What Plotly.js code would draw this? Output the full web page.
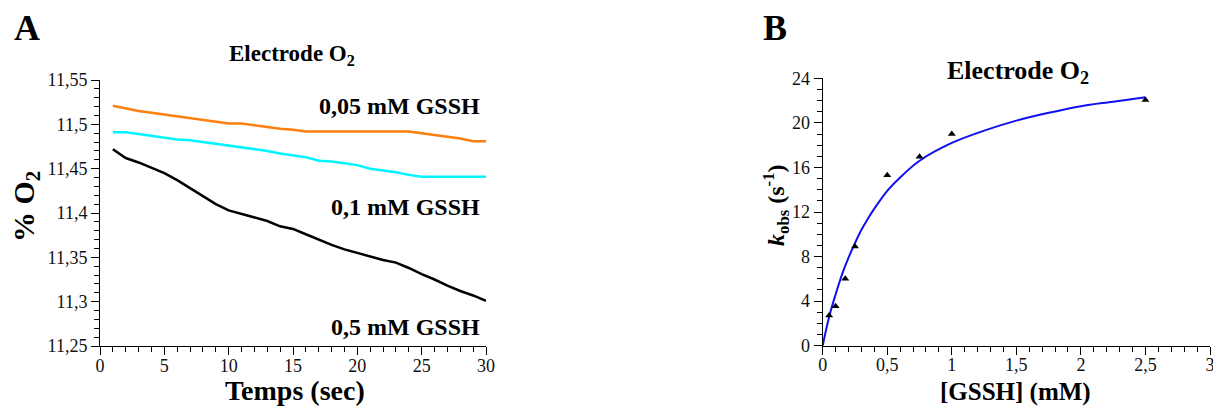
<!DOCTYPE html>
<html>
<head>
<meta charset="utf-8">
<script src="https://cdn.plot.ly/plotly-3.0.1.min.js"></script>
<style>html,body{margin:0;padding:0;background:#fff;}#chart{width:1213px;height:407px;}</style>
</head>
<body>
<div id="chart"></div>
<script>
// ---------- Panel A data (time in s, % O2) ----------
var timeSec = [1,2,3,4,5,6,7,8,9,10,11,12,13,14,15,16,17,18,19,20,21,22,23,24,25,26,27,28,29,30];
var o2_005mM = [11.521,11.518,11.515,11.513,11.511,11.509,11.507,11.505,11.503,11.501,11.501,11.499,11.497,11.495,11.494,11.492,11.492,11.492,11.492,11.492,11.492,11.492,11.492,11.492,11.490,11.488,11.486,11.484,11.481,11.481];
var o2_01mM  = [11.491,11.491,11.489,11.487,11.485,11.483,11.482,11.480,11.478,11.476,11.474,11.472,11.470,11.467,11.465,11.463,11.459,11.458,11.456,11.454,11.450,11.448,11.446,11.443,11.441,11.441,11.441,11.441,11.441,11.441];
var o2_05mM  = [11.472,11.462,11.457,11.451,11.445,11.437,11.428,11.419,11.410,11.403,11.399,11.395,11.391,11.385,11.382,11.376,11.370,11.364,11.359,11.355,11.351,11.347,11.344,11.338,11.331,11.325,11.318,11.312,11.307,11.301];
var seriesLabelsA = ["0,05 mM GSSH", "0,1 mM GSSH", "0,5 mM GSSH"];
var yTickValsA = [11.25,11.3,11.35,11.4,11.45,11.5,11.55];
var yTickTextA = ["11,25","11,3","11,35","11,4","11,45","11,5","11,55"];
var xTickValsA = [0,5,10,15,20,25,30];

// ---------- Panel B data ([GSSH] mM, kobs s-1) ----------
var gsshPts = [0.05, 0.1, 0.175, 0.25, 0.5, 0.75, 1.0, 2.5];
var kobsPts = [2.7, 3.55, 6.0, 8.9, 15.3, 16.95, 19.0, 22.05];
var fitX = [0, 0.05, 0.1, 0.15, 0.2, 0.25, 0.3, 0.35, 0.4, 0.5, 0.6, 0.75, 1.0, 1.25, 1.5, 1.75, 2.0, 2.25, 2.5];
var fitY = [0, 2.6, 4.6, 6.4, 7.9, 9.2, 10.4, 11.4, 12.3, 13.9, 15.1, 16.6, 18.2, 19.3, 20.2, 20.9, 21.5, 21.9, 22.3];
var xTickValsB = [0,0.5,1,1.5,2,2.5,3];
var xTickTextB = ["0","0,5","1","1,5","2","2,5","3"];
var yTickValsB = [0,4,8,12,16,20,24];

var W = 1213, H = 407;
function X(p){ return p / W; }
function Y(p){ return 1 - p / H; }
var FONT = "'Liberation Serif', 'Times New Roman', serif";

var traces = [
  {x: timeSec, y: o2_005mM, xaxis:'x', yaxis:'y', mode:'lines', line:{color:'#FF7F0E', width:2.5}, name: seriesLabelsA[0]},
  {x: timeSec, y: o2_01mM,  xaxis:'x', yaxis:'y', mode:'lines', line:{color:'#00F5FF', width:2.5}, name: seriesLabelsA[1]},
  {x: timeSec, y: o2_05mM,  xaxis:'x', yaxis:'y', mode:'lines', line:{color:'#000000', width:2.5}, name: seriesLabelsA[2]},
  {x: fitX, y: fitY, xaxis:'x2', yaxis:'y2', mode:'lines', line:{color:'#1010F0', width:2, shape:'spline'}, name:'fit'},
  {x: gsshPts, y: kobsPts, xaxis:'x2', yaxis:'y2', mode:'markers', marker:{symbol:'triangle-up', size:7, color:'#000'}, name:'kobs'}
];

function axisBase(){
  return {
    showline:true, linecolor:'#000', linewidth:1, showgrid:false, zeroline:false,
    ticks:'outside', ticklen:8, tickwidth:1, tickcolor:'#000', ticklabeloverflow:'allow',
    tickfont:{family:FONT, size:18, color:'#111'}
  };
}

var xa = axisBase();
Object.assign(xa, {domain:[X(100), X(486)], range:[0,30], tickmode:'array', tickvals:xTickValsA, anchor:'y', ticklabelstandoff:-5,
  minor:{dtick:1, tick0:0, ticks:'outside', ticklen:5, tickcolor:'#000', tickwidth:1, showgrid:false}});
var ya = axisBase();
Object.assign(ya, {domain:[Y(346), Y(80)], range:[11.25,11.55], tickmode:'array', tickvals:yTickValsA, ticktext:yTickTextA, anchor:'x',
  minor:{dtick:0.01, tick0:11.25, ticks:'outside', ticklen:5, tickcolor:'#000', tickwidth:1, showgrid:false}});
var xb = axisBase();
Object.assign(xb, {domain:[X(822.7), X(1210)], range:[0,3], tickmode:'array', tickvals:xTickValsB, ticktext:xTickTextB, anchor:'y2', ticklabelstandoff:-5,
  minor:{dtick:0.1, tick0:0, ticks:'outside', ticklen:5, tickcolor:'#000', tickwidth:1, showgrid:false}});
var yb = axisBase();
Object.assign(yb, {domain:[Y(345.7), Y(78.3)], range:[0,24], tickmode:'array', tickvals:yTickValsB, anchor:'x2',
  minor:{dtick:1, tick0:0, ticks:'outside', ticklen:5, tickcolor:'#000', tickwidth:1, showgrid:false}});

function ann(text, px, py, size, opts){
  var a = {text:text, xref:'paper', yref:'paper', x:X(px), y:Y(py), showarrow:false,
    xanchor:'center', yanchor:'middle', font:{family:FONT, size:size, color:'#000'}};
  return Object.assign(a, opts || {});
}

var annotations = [
  ann('<b>A</b>', 27, 28, 36),
  ann('<b>B</b>', 775, 28, 36),
  ann('<b>Electrode O<sub>2</sub></b>', 292, 55, 23),
  ann('<b>Electrode O<sub>2</sub></b>', 1018, 72, 26),
  ann('<b>' + seriesLabelsA[0] + '</b>', 482, 106, 24, {xanchor:'right'}),
  ann('<b>' + seriesLabelsA[1] + '</b>', 482, 207, 24, {xanchor:'right'}),
  ann('<b>' + seriesLabelsA[2] + '</b>', 482, 327, 24, {xanchor:'right'}),
  ann('<b>% O<sub>2</sub></b>', 26, 207, 30, {textangle:-90}),
  ann('<b>Temps (sec)</b>', 295, 407, 28, {yanchor:'bottom', borderpad:0}),
  ann('<b><i>k</i><sub>obs</sub> (s<sup>-1</sup>)</b>', 776, 205, 24, {textangle:-90}),
  ann('<b>[GSSH] (mM)</b>', 1015, 407, 25, {yanchor:'bottom', borderpad:0})
];

var layout = {
  width:W, height:H, margin:{l:0, r:0, t:0, b:0},
  paper_bgcolor:'#fff', plot_bgcolor:'#fff', showlegend:false,
  xaxis:xa, yaxis:ya, xaxis2:xb, yaxis2:yb,
  annotations:annotations,
  font:{family:FONT, color:'#000'}
};

Plotly.newPlot('chart', traces, layout, {staticPlot:true, displayModeBar:false});
</script>
</body>
</html>
